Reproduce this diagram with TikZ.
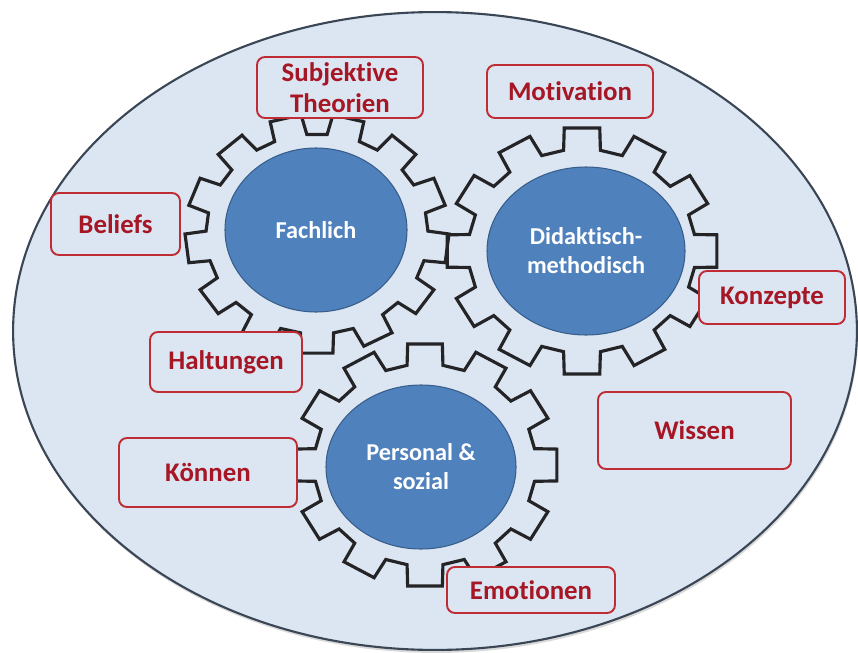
\documentclass[tikz,border=0pt]{standalone}
\usepackage{fontspec}
\setmainfont{Carlito}[Ligatures=NoCommon]
\usetikzlibrary{shapes.geometric}

\definecolor{bgblue}{RGB}{220,230,242}
\definecolor{rimgray}{RGB}{58,70,86}
\definecolor{hubblue}{RGB}{79,129,189}
\definecolor{hubedge}{RGB}{56,93,138}
\definecolor{gearink}{RGB}{36,36,38}
\definecolor{boxred}{RGB}{192,44,52}
\definecolor{txtred}{RGB}{166,22,36}

% gear outline: centre x, centre y, teeth, tip rx, tip ry, root rx, root ry, angle of first tooth
\newcommand\drawgear[8]{%
  \pgfmathsetmacro\gpitch{360/#3}%
  \pgfmathsetmacro\gtip{0.25*\gpitch}%
  \pgfmathsetmacro\groot{0.31*\gpitch}%
  \draw[gearline,shift={(#1,#2)}] ({#8-\groot}:#6 and #7)
    \foreach \k in {1,...,#3}{
      -- ({#8+(\k-1)*\gpitch-\gtip}:#4 and #5)
      -- ({#8+(\k-1)*\gpitch+\gtip}:#4 and #5)
      -- ({#8+(\k-1)*\gpitch+\groot}:#6 and #7)
      -- ({#8+\k*\gpitch-\groot}:#6 and #7)
    } -- cycle;}

\tikzset{
  rim/.style={fill=bgblue, draw=rimgray, line width=1.2pt},
  gearline/.style={draw=gearink, line width=1.8pt, line join=miter},
  hub/.style={ellipse, fill=hubblue, draw=hubedge, line width=0.6pt, text=white,
    font=\bfseries\fontsize{13.8}{16.5}\selectfont, align=center, inner sep=0pt},
  lbl/.style={draw=boxred, fill=bgblue, rounded corners=0.16cm, line width=1.1pt,
    text=txtred, font=\bfseries\fontsize{15.3}{17.6}\selectfont, align=center, inner sep=0pt},
  sz/.style 2 args={minimum width=#1*0.02cm, minimum height=#2*0.02cm}
}

\begin{document}
\begin{tikzpicture}[x=0.02cm, y=-0.02cm]
  \useasboundingbox (0,0) rectangle (858,652);

  % outer field with a soft drop shadow
  \fill[black, opacity=0.15] (436,334) ellipse [x radius=8.44cm, y radius=6.38cm];
  \draw[rim] (435,331) ellipse [x radius=8.44cm, y radius=6.38cm];

  % interlocking gears
  \drawgear{317}{234}{13}{132}{120}{111}{100}{90}
  \drawgear{582}{251}{12}{136}{124}{114}{102}{0}
  \drawgear{425}{465}{12}{133}{122}{111}{101}{0}

  % gear hubs
  \node[hub, sz={182}{164}] (fach) at (316,230) {Fachlich};
  \node[hub, sz={198}{168}] (dida) at (586,251) {Didaktisch-\\methodisch};
  \node[hub, sz={190}{164}] (pers) at (421,467) {Personal \&\\sozial};

  % surrounding terms
  \node[lbl, sz={166}{61}] (subj) at (340,87.5)  {Subjektive\\Theorien};
  \node[lbl, sz={166}{53}] (moti) at (570,91.5)  {Motivation};
  \node[lbl, sz={129}{62}] (beli) at (115.5,224) {Beliefs};
  \node[lbl, sz={146}{53}] (konz) at (772,297.5) {Konzepte};
  \node[lbl, sz={152}{60}] (halt) at (226,362)   {Haltungen};
  \node[lbl, sz={178}{69}] (koen) at (208,472.5) {Können};
  \node[lbl, sz={193}{77}] (wiss) at (694.5,430.5) {Wissen};
  \node[lbl, sz={168}{46}] (emot) at (531,590)   {Emotionen};
\end{tikzpicture}
\end{document}
